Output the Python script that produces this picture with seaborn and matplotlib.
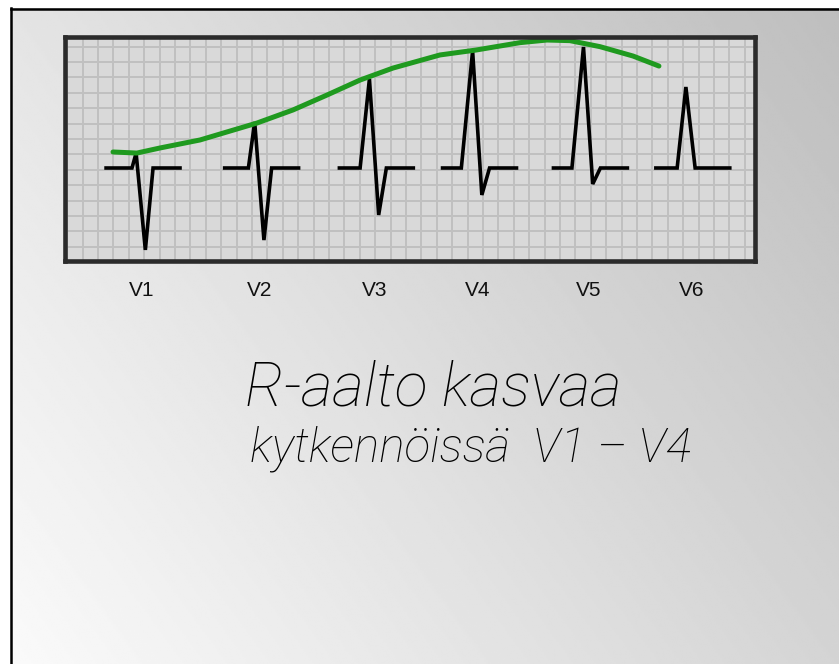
import numpy as np
import pandas as pd
import matplotlib
matplotlib.use("Agg")
import matplotlib.pyplot as plt
import matplotlib.transforms as mtransforms
import seaborn as sns

# ---------------- data (amplitudes in mm = grid squares) ----------------
leads = ["V1", "V2", "V3", "V4", "V5", "V6"]
lead_pos = [5.0, 12.7, 20.15, 26.85, 34.05, 40.7]      # complex centres (mm)
r_amp = [0.97, 2.99, 5.78, 7.60, 7.86, 5.26]           # R-wave height (mm)
s_amp = [-5.32, -4.68, -3.05, -1.75, -1.04, 0.0]       # S-wave depth (mm)

# hand-drawn green envelope over the R-wave peaks
green_x = [3.15, 4.7, 6.2, 8.8, 12.5, 14.84, 17.05, 19.19, 21.33, 24.38,
           26.72, 29.58, 31.33, 32.82, 34.77, 36.92, 38.6]
green_y = [1.04, 0.97, 1.30, 1.82, 2.92, 3.77, 4.74, 5.71, 6.49, 7.34,
           7.66, 8.14, 8.31, 8.27, 7.88, 7.27, 6.62]

note_lines = ["R-aalto kasvaa", "kytkennöissä  V1 – V4"]

# ---------------- build QRS complexes ----------------
rows = []
for lead, c, r, s in zip(leads, lead_pos, r_amp, s_amp):
    peak = c - 0.35
    onset = peak - (0.2 + 0.07 * r)
    t = [c - 2.3, onset, peak, peak + 0.6, peak + 1.1, c + 2.5]
    v = [0.0, 0.0, r, s, 0.0, 0.0]
    for ti, vi in zip(t, v):
        rows.append({"lead": lead, "t": ti, "mm": vi})
ecg = pd.DataFrame(rows)
env = pd.DataFrame({"t": green_x, "mm": green_y})

# ---------------- figure ----------------
W, H = 839, 664
fig = plt.figure(figsize=(W / 100, H / 100), dpi=100)
fig.patch.set_facecolor("white")

# slide background gradient
bx0, by0 = 11 / W, 0.0
bg = fig.add_axes([bx0, by0, 1 - bx0, 1 - 8 / H])
bg.set_axis_off()
xx, yy = np.meshgrid(np.linspace(0, 1, 400), np.linspace(0, 1, 400))
val = (228 - 38 * xx + 22 * yy) / 255.0
bg.imshow(val, cmap="gray", vmin=0, vmax=1, aspect="auto",
          extent=[0, 1, 1, 0], interpolation="bilinear")
bg.set_xlim(0, 1)
bg.set_ylim(1, 0)
fig.add_artist(plt.Line2D([11 / W, 11 / W], [0, 1 - 8 / H], color="black",
                          lw=1.8, transform=fig.transFigure))
fig.add_artist(plt.Line2D([11 / W, 1], [1 - 8.5 / H, 1 - 8.5 / H], color="black",
                          lw=1.8, transform=fig.transFigure))

# ECG panel
u = 15.4
left, right, top, bottom = 64.5, 755.0, 36.7, 260.5
base_px = 168.0
ax = fig.add_axes([left / W, 1 - bottom / H, (right - left) / W, (bottom - top) / H])
ax.set_facecolor("#d9d9d9")
ax.set_xlim(0, (right - left) / u)
ax.set_ylim(-(bottom - base_px) / u, (base_px - top) / u)

xmax = (right - left) / u
ymin, ymax = ax.get_ylim()
ax.set_xticks(np.arange(0.18, xmax, 1.0))
ax.set_yticks(np.arange(-5.12, ymax, 1.0))
ax.grid(True, color="#c0c0c0", lw=1.4)
ax.set_axisbelow(True)
ax.tick_params(length=0, labelbottom=False, labelleft=False)
for sp in ax.spines.values():
    sp.set_color("#2b2b2b")
    sp.set_linewidth(3.3)

sns.lineplot(data=ecg, x="t", y="mm", units="lead", estimator=None, sort=False,
             color="black", lw=2.6, ax=ax, legend=False)
for ln in ax.lines:
    ln.set_solid_joinstyle("miter")
sns.lineplot(data=env, x="t", y="mm", sort=False, estimator=None,
             color="#1f9a1f", lw=3.6, ax=ax, legend=False)
ax.lines[-1].set_solid_capstyle("round")
ax.lines[-1].set_solid_joinstyle("round")
ax.set_xlabel("")
ax.set_ylabel("")
ax.set_xlim(0, xmax)
ax.set_ylim(ymin, ymax)

# lead labels
trans = mtransforms.blended_transform_factory(ax.transData, fig.transFigure)
for lead, c in zip(leads, lead_pos):
    fig.text(c, 1 - 290 / H, lead, transform=trans, ha="center", va="center",
             fontsize=15, family="Liberation Sans", color="#111111")

# handwritten-style note
targets = [(245, 405, 377), (250, 462, 442)]
fig.canvas.draw()
renderer = fig.canvas.get_renderer()
for line, (x0, yb, wt) in zip(note_lines, targets):
    t = fig.text(x0 / W, 1 - yb / H, line, ha="left", va="baseline",
                 fontsize=30, family=["Roboto", "DejaVu Sans"], fontweight="light",
                 style="italic", color="black")
    w = t.get_window_extent(renderer).width
    t.set_fontsize(30 * wt / w)

fig.savefig("out.png", dpi=100)
